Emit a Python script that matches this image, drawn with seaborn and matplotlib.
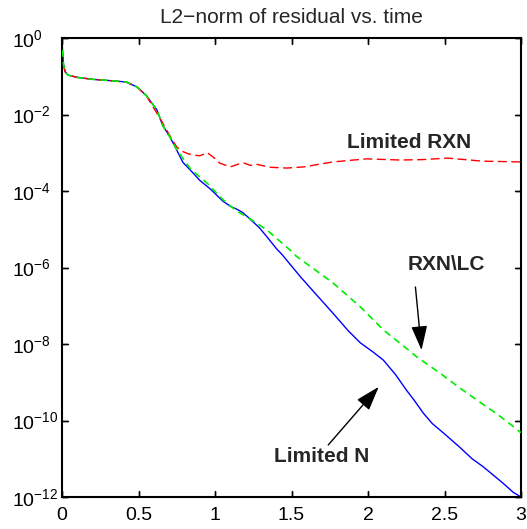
import numpy as np
import pandas as pd
import matplotlib
matplotlib.use("Agg")
import matplotlib.pyplot as plt
import seaborn as sns

# ---- data (y given as log10 of residual) ----
blue_t = [0.0, 0.004, 0.01, 0.02, 0.04, 0.1, 0.2, 0.3, 0.42, 0.49, 0.55, 0.62,
          0.66, 0.7, 0.74, 0.79, 0.85, 0.9, 0.97, 1.05, 1.1, 1.14, 1.18, 1.22,
          1.29, 1.34, 1.4, 1.44, 1.56, 1.66, 1.77, 1.87, 1.95, 2.03, 2.1, 2.18,
          2.25, 2.3, 2.36, 2.42, 2.5, 2.6, 2.68, 2.75, 2.88, 2.95, 3.0]
blue_log = [0.0, -0.4, -0.7, -0.88, -0.97, -1.03, -1.08, -1.11, -1.15, -1.28,
            -1.5, -1.88, -2.3, -2.55, -2.85, -3.25, -3.5, -3.72, -3.95, -4.26,
            -4.4, -4.47, -4.56, -4.7, -4.96, -5.2, -5.5, -5.67, -6.25, -6.7,
            -7.19, -7.65, -7.97, -8.2, -8.42, -8.8, -9.2, -9.46, -9.8, -10.08,
            -10.35, -10.7, -11.0, -11.2, -11.63, -11.88, -12.0]

green_t = [0.0, 0.004, 0.01, 0.02, 0.04, 0.1, 0.2, 0.3, 0.42, 0.49, 0.55, 0.62,
           0.66, 0.7, 0.74, 0.79, 0.84, 0.9, 0.95, 1.05, 1.14, 1.23, 1.34, 1.49,
           1.53, 1.65, 1.77, 1.95, 2.1, 2.2, 2.32, 2.47, 2.6, 2.71, 2.85, 2.97, 3.0]
green_log = [0.0, -0.4, -0.7, -0.88, -0.97, -1.03, -1.08, -1.11, -1.15, -1.28,
             -1.5, -1.88, -2.3, -2.55, -2.85, -3.15, -3.42, -3.63, -3.8, -4.22,
             -4.52, -4.73, -5.02, -5.54, -5.7, -6.05, -6.4, -7.03, -7.63, -7.95,
             -8.34, -8.76, -9.15, -9.46, -9.85, -10.22, -10.32]

red_t = [0.0, 0.004, 0.01, 0.02, 0.04, 0.1, 0.2, 0.3, 0.42, 0.49, 0.55, 0.64,
         0.71, 0.75, 0.79, 0.82, 0.86, 0.9, 0.95, 1.0, 1.03, 1.1, 1.15, 1.19,
         1.23, 1.27, 1.36, 1.47, 1.58, 1.77, 1.99, 2.21, 2.35, 2.52, 2.75, 3.0]
red_log = [0.0, -0.4, -0.7, -0.88, -0.97, -1.03, -1.08, -1.11, -1.15, -1.28,
           -1.5, -2.1, -2.59, -2.85, -2.97, -3.02, -3.06, -3.08, -3.0, -3.15,
           -3.27, -3.37, -3.3, -3.27, -3.33, -3.3, -3.38, -3.4, -3.37, -3.24,
           -3.16, -3.19, -3.18, -3.14, -3.22, -3.24]

series_names = ["Limited N", "RXN\\LC", "Limited RXN"]
x_ticks = [0, 0.5, 1, 1.5, 2, 2.5, 3]
x_tick_labels = ["0", "0.5", "1", "1.5", "2", "2.5", "3"]
y_tick_exps = [-12, -10, -8, -6, -4, -2, 0]
title_text = "L2\u2212norm of residual vs. time"

# ---- build long-form table ----
frames = []
for name, t, lg in zip(series_names, [blue_t, green_t, red_t],
                       [blue_log, green_log, red_log]):
    frames.append(pd.DataFrame({"t": t, "res": np.power(10.0, lg), "series": name}))
df = pd.concat(frames, ignore_index=True)

sns.set_style("ticks")
plt.rcParams["font.family"] = ["Liberation Sans", "DejaVu Sans"]
plt.rcParams["mathtext.fontset"] = "custom"
plt.rcParams["mathtext.rm"] = "Liberation Sans"
plt.rcParams["mathtext.it"] = "Liberation Sans:italic"
plt.rcParams["mathtext.bf"] = "Liberation Sans:bold"
plt.rcParams["mathtext.default"] = "regular"
plt.rcParams.update({
    "axes.axisbelow": False,
    "xtick.direction": "in", "ytick.direction": "in",
    "xtick.top": True, "ytick.right": True,
    "xtick.major.size": 4, "ytick.major.size": 4,
    "xtick.major.width": 1.0, "ytick.major.width": 1.0,
    "xtick.color": "black", "ytick.color": "black",
})

fig = plt.figure(figsize=(5.27, 5.29), dpi=100)
ax = fig.add_axes([62 / 527, 1 - 497 / 529, (521 - 62) / 527, (497 - 38) / 529])

palette = {"Limited N": "#0000ff", "RXN\\LC": "#00ee00", "Limited RXN": "#ff0000"}
dashes = {"Limited N": "", "RXN\\LC": (4.2, 2.9), "Limited RXN": (6.5, 3.2)}
sns.lineplot(data=df, x="t", y="res", hue="series", style="series",
             palette=palette, dashes=dashes, sort=False, legend=False,
             estimator=None, ax=ax, linewidth=1.0)
for ln in ax.get_lines():
    if ln.get_color() == "#00ee00":
        ln.set_linewidth(1.2)
        ln.set_zorder(3)
ax.set_yscale("log")
ax.set_xlim(0, 3)
ax.set_ylim(1e-12, 1e0)
ax.set_xticks(x_ticks)
ax.set_xticklabels(x_tick_labels)
ax.set_yticks([10.0 ** e for e in y_tick_exps])
ax.set_yticklabels([r"$10^{%d}$" % e for e in y_tick_exps])
ax.yaxis.set_minor_locator(matplotlib.ticker.NullLocator())
ax.xaxis.set_minor_locator(matplotlib.ticker.NullLocator())
ax.set_xlabel("")
ax.set_ylabel("")
ax.xaxis.set_ticks_position("both")
ax.yaxis.set_ticks_position("both")
ax.tick_params(which="major", direction="in", length=4, width=1.0, labelsize=14,
               color="black", labelcolor="black")
ax.tick_params(axis="x", pad=7, labeltop=False, labelbottom=True)
ax.tick_params(axis="y", pad=36, labelright=False, labelleft=True)
for lbl in ax.get_yticklabels():
    lbl.set_horizontalalignment("left")

# inward tick marks drawn as short segments in axis-blended coordinates
tick_frac = 0.012
xt = ax.get_xaxis_transform()
yt = ax.get_yaxis_transform()
for xv in x_ticks:
    ax.plot([xv, xv], [0, tick_frac], transform=xt, color="black", lw=1.0,
            clip_on=False, zorder=4)
    ax.plot([xv, xv], [1 - tick_frac, 1], transform=xt, color="black", lw=1.0,
            clip_on=False, zorder=4)
for e in y_tick_exps:
    yv = 10.0 ** e
    ax.plot([0, tick_frac], [yv, yv], transform=yt, color="black", lw=1.0,
            clip_on=False, zorder=4)
    ax.plot([1 - tick_frac, 1], [yv, yv], transform=yt, color="black", lw=1.0,
            clip_on=False, zorder=4)

for sp in ax.spines.values():
    sp.set_visible(True)
    sp.set_linewidth(1.5)
    sp.set_color("black")
ax.set_title(title_text, fontsize=15, pad=11)

arrow_kw = dict(arrowstyle="-|>,head_length=1.0,head_width=0.33",
                mutation_scale=15, color="black", lw=1.0, shrinkA=0, shrinkB=0)
ax.text(2.27, 10 ** -2.72, "Limited RXN", fontsize=15, fontweight="bold",
        ha="center", va="center")
ax.annotate("", xy=(2.35, 10 ** -8.16), xytext=(2.31, 10 ** -6.51),
            arrowprops=arrow_kw)
ax.text(2.51, 10 ** -5.93, "RXN\\LC", fontsize=15, fontweight="bold",
        ha="center", va="center")
ax.annotate("", xy=(2.07, 10 ** -9.12), xytext=(1.74, 10 ** -10.64),
            arrowprops=arrow_kw)
ax.text(1.70, 10 ** -10.93, "Limited N", fontsize=15, fontweight="bold",
        ha="center", va="center")

fig.savefig("out.png", dpi=100)
